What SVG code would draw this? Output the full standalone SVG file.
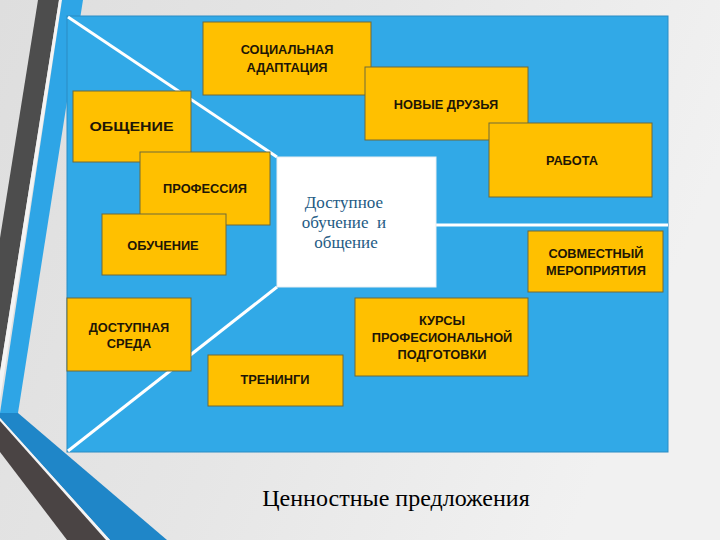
<svg xmlns="http://www.w3.org/2000/svg" width="720" height="540" viewBox="0 0 720 540">
<defs>
<linearGradient id="bg" x1="0" y1="0" x2="1" y2="0.3">
<stop offset="0" stop-color="#dedede"/>
<stop offset="0.5" stop-color="#e6e6e6"/>
<stop offset="1" stop-color="#f1f1f1"/>
</linearGradient>
<style>
.box{fill:#ffc000;stroke:#6f6a3a;stroke-width:1}
.lbl{font-family:"Liberation Sans",Arial,sans-serif;font-weight:bold;font-size:12.8px;fill:#1e1606;text-anchor:middle}
.conn{stroke:#ffffff;stroke-width:3;fill:none}
</style>
</defs>
<rect x="0" y="0" width="720" height="540" fill="url(#bg)"/>
<!-- left decoration -->
<polygon points="38,0 59,0 0,372 0,238" fill="#4d4d4d"/>
<polygon points="59,0 62,0 0,400 0,372" fill="#f4f4f4"/>
<polygon points="62,0 83,0 18,413 0,413" fill="#2ea5e6"/>
<polygon points="0,413 18,413 167,540 110,540 0,418" fill="#1f86c8"/>
<polygon points="0,418 110,540 106,540 0,421" fill="#f4f4f4"/>
<polygon points="0,421 106,540 67,540 0,452" fill="#4a4444"/>
<!-- main panel -->
<rect x="67" y="16" width="601" height="436" fill="#31a9e7" stroke="#2a8cc4" stroke-width="1"/>
<g id="connectors">
<line class="conn" x1="68" y1="17" x2="277" y2="157"/>
<line class="conn" x1="277" y1="287" x2="68" y2="451"/>
<line class="conn" x1="436" y1="225" x2="668" y2="225"/>
</g>
<g id="center">
<rect x="277" y="157" width="159" height="130" fill="#ffffff" stroke="#e8eef2" stroke-width="1"/>
<text font-family="Liberation Serif,'Times New Roman',serif" font-size="17" fill="#245b84" text-anchor="middle">
<tspan x="346" y="208">Доступное</tspan>
<tspan x="346" y="228">обучение&#160; и</tspan>
<tspan x="346" y="248">общение</tspan>
</text>
</g>
<g id="social">
<rect class="box" x="203" y="22" width="168" height="73"/>
<text class="lbl"><tspan x="287" y="54">СОЦИАЛЬНАЯ</tspan><tspan x="287" y="72">АДАПТАЦИЯ</tspan></text>
</g>
<g id="friends">
<rect class="box" x="365" y="67" width="163" height="73"/>
<text class="lbl" x="446" y="109">НОВЫЕ ДРУЗЬЯ</text>
</g>
<g id="communication">
<rect class="box" x="73" y="91" width="118" height="71"/>
<text class="lbl" x="131.5" y="131" font-size="13.5" textLength="84" lengthAdjust="spacingAndGlyphs">ОБЩЕНИЕ</text>
</g>
<g id="profession">
<rect class="box" x="140" y="152" width="130" height="73"/>
<text class="lbl" x="205" y="193">ПРОФЕССИЯ</text>
</g>
<g id="learning">
<rect class="box" x="102" y="214" width="124" height="61"/>
<text class="lbl" x="163" y="250">ОБУЧЕНИЕ</text>
</g>
<g id="work">
<rect class="box" x="489" y="123" width="163" height="74"/>
<text class="lbl" x="572" y="165">РАБОТА</text>
</g>
<g id="joint">
<rect class="box" x="528" y="231" width="135" height="61"/>
<text class="lbl"><tspan x="596" y="258">СОВМЕСТНЫЙ</tspan><tspan x="596" y="275">МЕРОПРИЯТИЯ</tspan></text>
</g>
<g id="environment">
<rect class="box" x="67" y="298" width="124" height="73"/>
<text class="lbl"><tspan x="129" y="332">ДОСТУПНАЯ</tspan><tspan x="129" y="348">СРЕДА</tspan></text>
</g>
<g id="trainings">
<rect class="box" x="208" y="355" width="135" height="51"/>
<text class="lbl" x="275" y="384">ТРЕНИНГИ</text>
</g>
<g id="courses">
<rect class="box" x="355" y="298" width="173" height="78"/>
<text class="lbl"><tspan x="442" y="325">КУРСЫ</tspan><tspan x="442" y="342">ПРОФЕСИОНАЛЬНОЙ</tspan><tspan x="442" y="359">ПОДГОТОВКИ</tspan></text>
</g>
<text x="396" y="506" font-family="Liberation Serif,'Times New Roman',serif" font-size="24" fill="#000000" text-anchor="middle">Ценностные предложения</text>
</svg>
